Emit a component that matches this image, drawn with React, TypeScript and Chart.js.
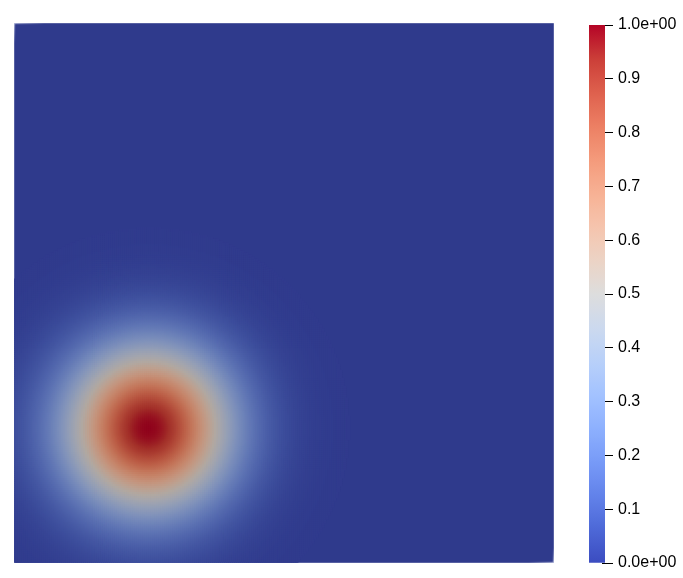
import React, { useEffect, useRef } from "react";
import { Chart, registerables } from "chart.js";

Chart.register(...registerables);

// ---- Field: one Gaussian bump on the unit square ----
const FIELD_MIN = 0;
const FIELD_MAX = 1;
const BUMP_CENTER_X = 0.25;
const BUMP_CENTER_Y = 0.25;
const BUMP_PEAK = 1.0;
const BUMP_SIGMA = 0.105;
const GRID_CELLS = 272;
const VALUE_CUTOFF = 0.002;

// ---- Colour bar ----
const COLORBAR_MIN = 0;
const COLORBAR_MAX = 1;
const COLORBAR_TICKS = [0, 0.1, 0.2, 0.3, 0.4, 0.5, 0.6, 0.7, 0.8, 0.9, 1.0];
const COLORBAR_TICK_LABELS = [
  "0.0e+00", "0.1", "0.2", "0.3", "0.4", "0.5", "0.6", "0.7", "0.8", "0.9", "1.0e+00",
];

// ---- "Cool to Warm" colour map (style) ----
const COOLWARM: number[][] = [
  [59, 76, 192], [77, 104, 215], [98, 130, 234], [119, 154, 247],
  [141, 176, 254], [163, 194, 255], [184, 208, 249], [204, 217, 238],
  [221, 221, 221], [236, 211, 197], [245, 196, 173], [247, 177, 148],
  [244, 154, 123], [236, 127, 99], [222, 96, 77], [203, 62, 56], [180, 4, 38],
];
const SURFACE_SHADE = [0.8, 0.76, 0.73];

function coolWarm(v: number): number[] {
  const t = Math.min(1, Math.max(0, (v - COLORBAR_MIN) / (COLORBAR_MAX - COLORBAR_MIN)));
  const p = t * (COOLWARM.length - 1);
  const i = Math.min(COOLWARM.length - 2, Math.floor(p));
  const f = p - i;
  const a = COOLWARM[i];
  const b = COOLWARM[i + 1];
  return [0, 1, 2].map((k) => a[k] + (b[k] - a[k]) * f);
}

function rgb(c: number[], s: number[] = [1, 1, 1]): string {
  return `rgb(${Math.round(c[0] * s[0])},${Math.round(c[1] * s[1])},${Math.round(c[2] * s[2])})`;
}

function surfaceColor(v: number): string {
  return rgb(coolWarm(v), SURFACE_SHADE);
}

export default function App() {
  const mainRef = useRef<HTMLCanvasElement | null>(null);
  const barRef = useRef<HTMLCanvasElement | null>(null);

  useEffect(() => {
    const points: { x: number; y: number }[] = [];
    const colors: string[] = [];
    const span = FIELD_MAX - FIELD_MIN;
    for (let i = 0; i < GRID_CELLS; i++) {
      const x = FIELD_MIN + ((i + 0.5) / GRID_CELLS) * span;
      for (let j = 0; j < GRID_CELLS; j++) {
        const y = FIELD_MIN + ((j + 0.5) / GRID_CELLS) * span;
        const d2 = (x - BUMP_CENTER_X) ** 2 + (y - BUMP_CENTER_Y) ** 2;
        const v = BUMP_PEAK * Math.exp(-d2 / (2 * BUMP_SIGMA * BUMP_SIGMA));
        if (v < VALUE_CUTOFF) continue;
        points.push({ x, y });
        colors.push(surfaceColor(v));
      }
    }

    const bgPlugin = {
      id: "surfaceBg",
      beforeDatasetsDraw(chart: any) {
        const { ctx, chartArea: a } = chart;
        ctx.save();
        ctx.fillStyle = surfaceColor(COLORBAR_MIN);
        ctx.fillRect(a.left, a.top, a.right - a.left, a.bottom - a.top);
        ctx.restore();
      },
      afterDatasetsDraw(chart: any) {
        // faint lit edges near two corners of the surface
        const { ctx, chartArea: a } = chart;
        const hi = "rgba(200,205,230,0.75)";
        const lo = "rgba(200,205,230,0)";
        const line = (x1: number, y1: number, x2: number, y2: number) => {
          const g = ctx.createLinearGradient(x1, y1, x2, y2);
          g.addColorStop(0, hi);
          g.addColorStop(1, lo);
          ctx.strokeStyle = g;
          ctx.beginPath();
          ctx.moveTo(x1, y1);
          ctx.lineTo(x2, y2);
          ctx.stroke();
        };
        ctx.save();
        ctx.lineWidth = 1;
        line(a.left, a.top + 0.5, a.left + 30, a.top + 0.5);
        line(a.left + 0.5, a.top, a.left + 0.5, a.top + 20);
        line(a.right, a.bottom - 0.5, a.right - 25, a.bottom - 0.5);
        line(a.right - 0.5, a.bottom, a.right - 0.5, a.bottom - 15);
        ctx.restore();
      },
    };

    const main = new Chart(mainRef.current!, {
      type: "scatter",
      data: {
        datasets: [
          {
            data: points,
            backgroundColor: colors,
            pointStyle: "rect",
            // cells overlap their neighbours so no seams show through
            pointRadius: 2.2,
            pointBorderWidth: 0,
            borderWidth: 0,
            pointHoverRadius: 0,
          } as any,
        ],
      },
      options: {
        animation: false,
        responsive: false,
        events: [],
        layout: { padding: 0 },
        plugins: { legend: { display: false }, tooltip: { enabled: false } },
        scales: {
          x: { type: "linear", min: FIELD_MIN, max: FIELD_MAX, display: false },
          y: { type: "linear", min: FIELD_MIN, max: FIELD_MAX, display: false },
        },
      },
      plugins: [bgPlugin],
    });

    const tickShift = {
      id: "tickShift",
      afterLayout(chart: any) {
        const s = chart.scales.y;
        s.left -= 3;
        s.right -= 3;
      },
    };

    const bar = new Chart(barRef.current!, {
      type: "bar",
      data: {
        labels: [""],
        datasets: [
          {
            data: [COLORBAR_MAX],
            base: COLORBAR_MIN,
            borderWidth: 0,
            barPercentage: 1,
            categoryPercentage: 1,
            backgroundColor: (c: any) => {
              const a = c.chart.chartArea;
              if (!a) return rgb(COOLWARM[COOLWARM.length - 1]);
              const g = c.chart.ctx.createLinearGradient(0, a.bottom, 0, a.top);
              const n = 64;
              for (let k = 0; k <= n; k++) {
                const t = k / n;
                g.addColorStop(t, rgb(coolWarm(COLORBAR_MIN + t * (COLORBAR_MAX - COLORBAR_MIN))));
              }
              return g;
            },
          } as any,
        ],
      },
      options: {
        animation: false,
        responsive: false,
        events: [],
        layout: { padding: { left: 29, top: 25, bottom: 15, right: 0 } },
        plugins: { legend: { display: false }, tooltip: { enabled: false } },
        scales: {
          x: { display: false },
          y: {
            position: "right",
            z: 1,
            min: COLORBAR_MIN,
            max: COLORBAR_MAX,
            afterFit(s: any) {
              s.width = 78;
            },
            afterBuildTicks(s: any) {
              s.ticks = COLORBAR_TICKS.map((v) => ({ value: v }));
            },
            border: { display: false },
            grid: {
              drawOnChartArea: false,
              drawTicks: true,
              tickLength: 11,
              color: "#000",
              tickColor: "#000",
              lineWidth: 1,
            },
            ticks: {
              padding: 5,
              color: "#000",
              autoSkip: false,
              maxRotation: 0,
              font: { family: '"Liberation Sans", Arial, sans-serif', size: 16 },
              callback: (_v: any, i: number) => COLORBAR_TICK_LABELS[i],
            },
          } as any,
        },
      },
      plugins: [tickShift],
    });

    return () => {
      main.destroy();
      bar.destroy();
    };
  }, []);

  return (
    <div style={{ position: "absolute", left: 0, top: 0, width: 683, height: 578, background: "#fff" }}>
      <canvas ref={mainRef} width={544} height={544} style={{ position: "absolute", left: 12, top: 21 }} />
      <canvas ref={barRef} width={123} height={578} style={{ position: "absolute", left: 560, top: 0 }} />
    </div>
  );
}
